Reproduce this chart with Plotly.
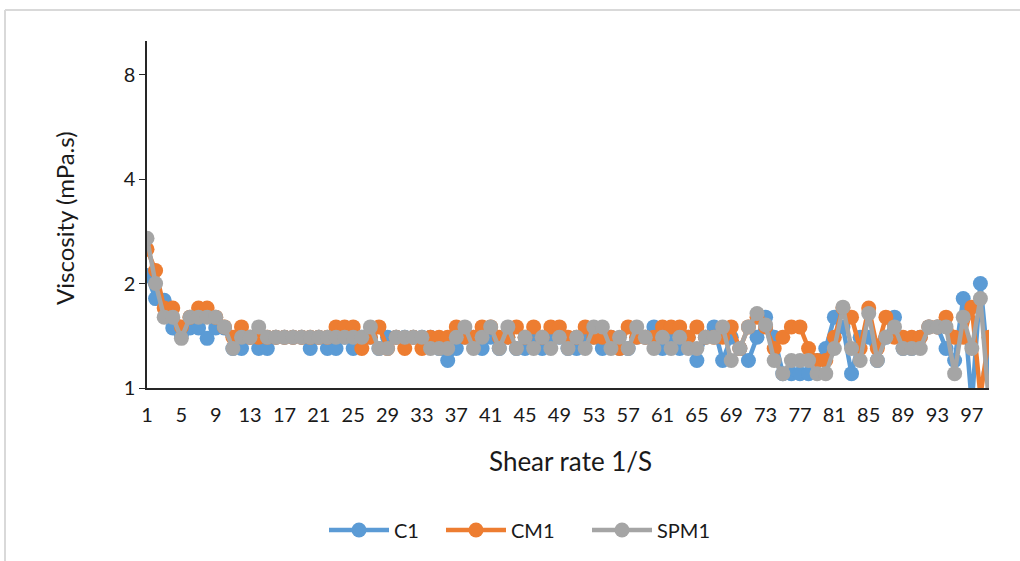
import plotly.graph_objects as go

shear_rate = list(range(1, 100))
tick_labels = list(range(1, 100, 4))
y_ticks = [1, 2, 4, 8]

c1 = [2.11, 1.81, 1.79, 1.49, 1.42, 1.49, 1.49, 1.39, 1.49, 1.49,
      1.30, 1.30, 1.40, 1.30, 1.30, 1.40, 1.40, 1.40, 1.40, 1.30,
      1.40, 1.30, 1.30, 1.40, 1.30, 1.40, 1.40, 1.30, 1.40, 1.40,
      1.40, 1.40, 1.40, 1.40, 1.30, 1.20, 1.30, 1.40, 1.40, 1.30,
      1.40, 1.30, 1.40, 1.30, 1.30, 1.40, 1.30, 1.40, 1.40, 1.30,
      1.30, 1.40, 1.40, 1.30, 1.40, 1.30, 1.30, 1.40, 1.40, 1.50,
      1.30, 1.40, 1.30, 1.40, 1.20, 1.40, 1.50, 1.20, 1.40, 1.30,
      1.20, 1.40, 1.60, 1.40, 1.10, 1.10, 1.10, 1.10, 1.20, 1.30,
      1.60, 1.50, 1.10, 1.40, 1.40, 1.20, 1.40, 1.60, 1.30, 1.30,
      1.40, 1.50, 1.50, 1.30, 1.20, 1.81, 0.90, 2.00, 1.10]

cm1 = [2.51, 2.18, 1.70, 1.70, 1.50, 1.60, 1.70, 1.70, 1.60, 1.50,
       1.40, 1.50, 1.40, 1.40, 1.40, 1.40, 1.40, 1.40, 1.40, 1.40,
       1.40, 1.40, 1.50, 1.50, 1.50, 1.30, 1.40, 1.50, 1.30, 1.40,
       1.30, 1.40, 1.30, 1.40, 1.40, 1.40, 1.50, 1.40, 1.40, 1.50,
       1.50, 1.40, 1.40, 1.50, 1.40, 1.50, 1.40, 1.50, 1.50, 1.40,
       1.40, 1.50, 1.40, 1.40, 1.40, 1.30, 1.50, 1.40, 1.40, 1.40,
       1.50, 1.50, 1.50, 1.40, 1.50, 1.40, 1.40, 1.40, 1.50, 1.30,
       1.50, 1.60, 1.50, 1.30, 1.40, 1.50, 1.50, 1.30, 1.20, 1.20,
       1.40, 1.70, 1.60, 1.30, 1.70, 1.30, 1.60, 1.40, 1.40, 1.40,
       1.40, 1.50, 1.50, 1.60, 1.40, 1.40, 1.71, 0.95, 1.40]

spm1 = [2.70, 2.00, 1.60, 1.60, 1.39, 1.60, 1.60, 1.60, 1.60, 1.50,
        1.30, 1.40, 1.40, 1.50, 1.40, 1.40, 1.40, 1.40, 1.40, 1.40,
        1.40, 1.40, 1.40, 1.40, 1.40, 1.40, 1.50, 1.30, 1.30, 1.40,
        1.40, 1.40, 1.40, 1.30, 1.30, 1.30, 1.40, 1.50, 1.30, 1.40,
        1.50, 1.30, 1.50, 1.30, 1.40, 1.30, 1.40, 1.30, 1.40, 1.30,
        1.40, 1.30, 1.50, 1.50, 1.30, 1.40, 1.30, 1.50, 1.40, 1.30,
        1.40, 1.30, 1.40, 1.30, 1.30, 1.40, 1.40, 1.50, 1.20, 1.30,
        1.50, 1.64, 1.52, 1.20, 1.10, 1.20, 1.20, 1.20, 1.10, 1.10,
        1.30, 1.71, 1.30, 1.20, 1.64, 1.20, 1.40, 1.50, 1.30, 1.30,
        1.30, 1.50, 1.50, 1.50, 1.10, 1.60, 1.30, 1.81, 0.90]

series = [("C1", c1, "#5B9BD5", "legend", 329),
          ("CM1", cm1, "#ED7D31", "legend2", 446),
          ("SPM1", spm1, "#A5A5A5", "legend3", 592)]

FONT = "Lato"
L, R, T, B = 147, 31, 41, 173
PW = 1020 - L - R
PH = 561 - T - B


def px_x(px):
    return (px - L) / PW


def px_y(py):
    return (561 - B - py) / PH


fig = go.Figure()
legends = {}
for name, vals, col, lg, lx in series:
    fig.add_trace(go.Scatter(
        x=shear_rate, y=vals, name=name, mode="lines+markers",
        line=dict(color=col, width=4.5),
        marker=dict(color=col, size=15, line=dict(width=0)),
        cliponaxis=True, legend=lg,
    ))
    legends[lg] = dict(orientation="h", x=px_x(lx - 5), y=px_y(530), xanchor="left",
                       yanchor="middle", font=dict(size=20, color="#1a1a1a", family=FONT),
                       itemwidth=60, bgcolor="rgba(0,0,0,0)")

fig.update_layout(
    width=1020, height=561,
    margin=dict(l=L, r=R, t=T, b=B),
    paper_bgcolor="white", plot_bgcolor="white",
    font=dict(family=FONT, size=20, color="#1a1a1a"),
    showlegend=True,
    xaxis=dict(range=[1, 99], tickmode="array", tickvals=tick_labels,
               ticktext=[str(t) for t in tick_labels], showgrid=False, zeroline=False,
               showline=True, linecolor="#262626", linewidth=1.5, ticks="",
               ticklabelstandoff=8, tickfont=dict(size=20, color="#1a1a1a")),
    yaxis=dict(type="log", range=[0, 1], tickmode="array", tickvals=y_ticks,
               ticktext=[str(t) for t in y_ticks], showgrid=False, zeroline=False,
               showline=True, linecolor="#262626", linewidth=1.5, ticks="outside",
               ticklen=6, tickcolor="#262626", tickfont=dict(size=20, color="#1a1a1a")),
    annotations=[
        dict(text="Shear rate 1/S", xref="paper", yref="paper", x=px_x(570), y=px_y(461),
             xanchor="center", yanchor="middle", showarrow=False,
             font=dict(size=26, color="#1a1a1a", family=FONT)),
        dict(text="Viscosity (mPa.s)", xref="paper", yref="paper", x=px_x(64), y=px_y(218),
             xanchor="center", yanchor="middle", showarrow=False, textangle=-90,
             font=dict(size=24, color="#1a1a1a", family=FONT)),
    ],
    shapes=[
        dict(type="line", xref="paper", yref="paper", x0=px_x(5), x1=px_x(1030), y0=px_y(10), y1=px_y(10),
             line=dict(color="#D9D9D9", width=2)),
        dict(type="line", xref="paper", yref="paper", x0=px_x(5), x1=px_x(5), y0=px_y(10), y1=px_y(570),
             line=dict(color="#D9D9D9", width=2)),
    ],
    **legends,
)

fig.write_html("out.html", config={"displayModeBar": False},
               post_script="document.body.style.margin='0';document.body.style.overflow='hidden';")
